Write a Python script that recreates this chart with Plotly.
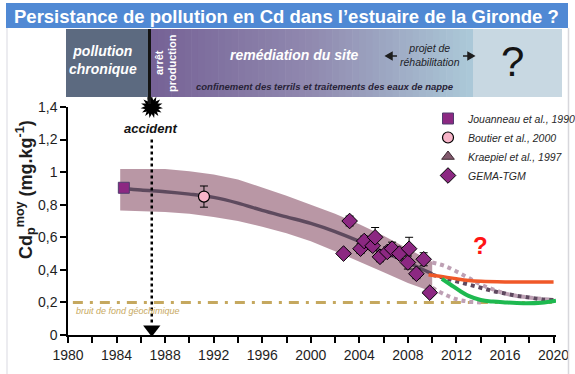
import plotly.graph_objects as go

# ---------------- data ----------------
trend_years = [1984.6, 1986, 1988, 1990, 1992, 1994, 1996, 1998, 2000, 2002, 2004, 2006, 2008, 2010]
trend_cd = [0.90, 0.89, 0.88, 0.865, 0.845, 0.81, 0.765, 0.725, 0.685, 0.635, 0.575, 0.51, 0.445, 0.375]

band_years = [1984.3, 1986, 1988, 1990, 1992, 1994, 1996, 1998, 2000, 2002, 2004, 2006, 2008, 2010]
band_upper = [1.02, 1.02, 1.02, 1.005, 0.985, 0.955, 0.905, 0.855, 0.80, 0.745, 0.68, 0.61, 0.53, 0.45]
band_lower = [0.765, 0.76, 0.755, 0.745, 0.725, 0.70, 0.665, 0.625, 0.575, 0.515, 0.45, 0.385, 0.32, 0.265]

jouanneau_year = [1984.6]
jouanneau_cd = [0.904]

boutier_year = [1991.2]
boutier_cd = [0.85]
boutier_err = [0.065]

kraepiel_year = [None]
kraepiel_cd = [None]

gema_year = [2002.7, 2003.2, 2004.1, 2004.4, 2005.1, 2005.3, 2005.7, 2006.3, 2006.7, 2007.3, 2008.0, 2008.1, 2008.7, 2009.3, 2009.8]
gema_cd = [0.50, 0.70, 0.53, 0.577, 0.548, 0.60, 0.48, 0.51, 0.53, 0.50, 0.445, 0.53, 0.376, 0.465, 0.26]
gema_err = [0.02, 0.03, 0.03, 0.03, 0.03, 0.06, 0.03, 0.03, 0.04, 0.03, 0.04, 0.07, 0.03, 0.04, 0.02]

orange_years = [2009.7, 2011, 2012, 2013, 2014, 2016, 2018, 2020]
orange_cd = [0.37, 0.357, 0.345, 0.335, 0.33, 0.326, 0.325, 0.325]

green_years = [2010.8, 2011.5, 2012.3, 2013, 2014, 2015, 2016, 2017.5, 2019, 2020.2]
green_cd = [0.345, 0.31, 0.27, 0.24, 0.215, 0.205, 0.2, 0.195, 0.198, 0.21]

dot_up_years = [2010, 2011, 2012, 2013, 2014, 2015, 2016, 2017, 2018, 2020]
dot_up_cd = [0.445, 0.425, 0.39, 0.35, 0.31, 0.28, 0.255, 0.24, 0.23, 0.215]

dot_mid_years = [2010, 2011, 2012, 2013, 2014, 2015, 2016, 2017, 2018, 2019, 2020]
dot_mid_cd = [0.37, 0.35, 0.33, 0.31, 0.29, 0.27, 0.255, 0.24, 0.23, 0.22, 0.215]

dot_low_years = [2010, 2011, 2012, 2013, 2014]
dot_low_cd = [0.29, 0.25, 0.22, 0.205, 0.20]

background_years = [1980.4, 2020]
background_cd = [0.2, 0.2]

accident_year = [1986.9, 1986.9]
accident_cd = [1.2, 0.07]

x_ticks = [1980, 1984, 1988, 1992, 1996, 2000, 2004, 2008, 2012, 2016, 2020]
y_ticks = [0, 0.2, 0.4, 0.6, 0.8, 1.0, 1.2, 1.4]
y_ticklabels = ["0", "0,2", "0,4", "0,6", "0,8", "1", "1,2", "1,4"]

# ---------------- figure ----------------
W, H = 575, 374
ML, MR, MT, MB = 68, 19, 107, 39
PW = W - ML - MR
PH = H - MT - MB


def px_x(px):
    return (px - ML) / PW


def px_y(py):
    return (H - MB - py) / PH


FONT = "Liberation Sans, Arial, sans-serif"
fig = go.Figure()

# envelope band
fig.add_trace(go.Scatter(
    x=band_years + band_years[::-1], y=band_upper + band_lower[::-1],
    fill="toself", fillcolor="rgba(181,145,160,0.95)", line=dict(width=0),
    mode="lines", showlegend=False, hoverinfo="skip"))

# background line
fig.add_trace(go.Scatter(x=background_years, y=background_cd, mode="lines",
                         line=dict(color="rgb(197,168,95)", width=3, dash="10px,7px,3px,7px"),
                         showlegend=False))

# projection dotted lines
fig.add_trace(go.Scatter(x=dot_up_years, y=dot_up_cd, mode="lines",
                         line=dict(color="rgb(190,160,180)", width=4, dash="dot", shape="spline"),
                         showlegend=False))
fig.add_trace(go.Scatter(x=dot_low_years, y=dot_low_cd, mode="lines",
                         line=dict(color="rgb(190,160,180)", width=4, dash="dot", shape="spline"),
                         showlegend=False))
fig.add_trace(go.Scatter(x=dot_mid_years, y=dot_mid_cd, mode="lines",
                         line=dict(color="rgb(95,72,95)", width=4, dash="dot", shape="spline"),
                         showlegend=False))

# trend line
fig.add_trace(go.Scatter(x=trend_years, y=trend_cd, mode="lines",
                         line=dict(color="rgb(94,74,94)", width=3.5, shape="spline"),
                         showlegend=False))

# orange & green scenarios
fig.add_trace(go.Scatter(x=orange_years, y=orange_cd, mode="lines",
                         line=dict(color="rgb(240,88,40)", width=3.5, shape="spline"),
                         showlegend=False))
fig.add_trace(go.Scatter(x=green_years, y=green_cd, mode="lines",
                         line=dict(color="rgb(30,185,80)", width=4, shape="spline"),
                         showlegend=False))

# accident dotted arrow
fig.add_trace(go.Scatter(x=accident_year, y=accident_cd, mode="lines",
                         line=dict(color="black", width=2.5, dash="dot"), showlegend=False))
fig.add_trace(go.Scatter(x=accident_year[1:], y=[0.035], mode="markers",
                         marker=dict(symbol="triangle-down", size=15, color="black"),
                         showlegend=False, cliponaxis=False))
for ang in (0, 24, 48):
    fig.add_trace(go.Scatter(x=accident_year[:1], y=[1.4], mode="markers",
                             marker=dict(symbol="star", size=16, color="black", angle=ang),
                             showlegend=False, cliponaxis=False))

# data series (legend)
fig.add_trace(go.Scatter(x=jouanneau_year, y=jouanneau_cd, mode="markers",
                         name="<i>Jouanneau et al., 1990</i>",
                         marker=dict(symbol="square", size=11, color="rgb(140,40,130)",
                                     line=dict(color="rgb(80,60,110)", width=1))))
fig.add_trace(go.Scatter(x=boutier_year, y=boutier_cd, mode="markers",
                         name="<i>Boutier et al., 2000</i>",
                         error_y=dict(type="data", array=boutier_err, color="black", thickness=1, width=4),
                         marker=dict(symbol="circle", size=11, color="rgb(247,180,200)",
                                     line=dict(color="black", width=1.2))))
fig.add_trace(go.Scatter(x=kraepiel_year, y=kraepiel_cd, mode="markers",
                         name="<i>Kraepiel et al., 1997</i>",
                         marker=dict(symbol="triangle-up", size=11, color="rgb(130,90,110)",
                                     line=dict(color="rgb(60,40,50)", width=1))))
fig.add_trace(go.Scatter(x=gema_year, y=gema_cd, mode="markers",
                         name="<i>GEMA-TGM</i>",
                         error_y=dict(type="data", array=gema_err, color="black", thickness=1, width=4),
                         marker=dict(symbol="diamond", size=12, color="rgb(140,40,130)",
                                     line=dict(color="black", width=1))))

shapes = []
# title bar
shapes.append(dict(type="rect", xref="paper", yref="paper", x0=px_x(6), x1=px_x(568),
                   y0=px_y(28), y1=px_y(3), fillcolor="rgb(80,137,212)", line=dict(width=0)))
# frame lines
shapes.append(dict(type="line", xref="paper", yref="paper", x0=px_x(568.5), x1=px_x(568.5),
                   y0=px_y(374), y1=px_y(28), line=dict(color="rgb(215,215,220)", width=1.5)))
shapes.append(dict(type="line", xref="paper", yref="paper", x0=px_x(7), x1=px_x(7),
                   y0=px_y(374), y1=px_y(28), line=dict(color="rgb(230,230,235)", width=1.5)))
# band sections
BT, BB = px_y(29), px_y(97)
shapes.append(dict(type="rect", xref="paper", yref="paper", x0=px_x(66), x1=px_x(149),
                   y0=BB, y1=BT, fillcolor="rgb(92,106,128)", line=dict(width=0)))
N = 48
g0, g1 = 151, 473
c0 = (118, 98, 150)
cm = (145, 138, 176)
c1 = (172, 202, 217)
for i in range(N):
    t = (i + 0.5) / N
    if t < 0.5:
        u = t / 0.5
        c = [c0[k] + (cm[k] - c0[k]) * u for k in range(3)]
    else:
        u = (t - 0.5) / 0.5
        c = [cm[k] + (c1[k] - cm[k]) * u for k in range(3)]
    xa = g0 + (g1 - g0) * i / N
    xb = g0 + (g1 - g0) * (i + 1) / N + 0.6
    shapes.append(dict(type="rect", xref="paper", yref="paper", x0=px_x(xa), x1=px_x(xb),
                       y0=BB, y1=BT, fillcolor="rgb(%d,%d,%d)" % tuple(int(v) for v in c),
                       line=dict(width=0)))
shapes.append(dict(type="rect", xref="paper", yref="paper", x0=px_x(473), x1=px_x(562),
                   y0=BB, y1=BT, fillcolor="rgb(200,216,226)", line=dict(width=0)))
# black production stop line
shapes.append(dict(type="line", xref="paper", yref="paper", x0=px_x(149.5), x1=px_x(149.5),
                   y0=px_y(104), y1=BT, line=dict(color="rgb(20,20,20)", width=3)))


# arrows for "projet de réhabilitation"
def arrow_path(x_head, x_tail, y, hw=3.5, hl=6):
    d = 1 if x_tail > x_head else -1
    xb = x_head + d * hl
    return ("M %f,%f L %f,%f L %f,%f Z M %f,%f L %f,%f" % (
        px_x(x_head), px_y(y), px_x(xb), px_y(y - hw), px_x(xb), px_y(y + hw),
        px_x(xb), px_y(y), px_x(x_tail), px_y(y)))


for xh, xt in ((386, 397), (474, 463)):
    shapes.append(dict(type="path", xref="paper", yref="paper", path=arrow_path(xh, xt, 56),
                       fillcolor="rgb(30,30,30)", line=dict(color="rgb(30,30,30)", width=1.5)))

ann = []


def pann(xp, yp, text, size, color, angle=0):
    ann.append(dict(xref="paper", yref="paper", x=px_x(xp), y=px_y(yp), xanchor="center",
                    yanchor="middle", text=text, showarrow=False, textangle=angle,
                    font=dict(family=FONT, size=size, color=color)))


pann(286, 16, "<b>Persistance de pollution en Cd dans l’estuaire de la Gironde ?</b>", 18.5, "white")
pann(103, 60, "<b><i>pollution<br>chronique</i></b>", 14, "white")
pann(159, 63, "<b>arrêt</b>", 11, "white", -90)
pann(172, 63, "<b>production</b>", 11, "white", -90)
pann(294, 55, "<b><i>remédiation du site</i></b>", 14, "white")
pann(430, 55, "<i>projet de<br>réhabilitation</i>", 10.5, "rgb(30,30,40)")
pann(325, 86, "<b><i>confinement des terrils et traitements des eaux de nappe</i></b>", 9.5, "rgb(40,35,55)")
pann(512, 62, "?", 42, "rgb(20,20,20)")
# y axis title
pann(25, 190, "<b>Cd<sub>p</sub><sup>moy</sup> (mg.kg<sup>-1</sup>)</b>", 18, "rgb(30,30,30)", -90)
# in-plot text
ann.append(dict(x=1986.8, y=1.265, text="<b><i>accident</i></b>", showarrow=False,
                font=dict(family=FONT, size=13, color="rgb(20,20,20)")))
ann.append(dict(x=1980.5, y=0.15, xanchor="left", text="<i>bruit de fond géochimique</i>", showarrow=False,
                font=dict(family=FONT, size=9, color="rgb(200,170,100)")))
ann.append(dict(x=2014, y=0.55, text="<b>?</b>", showarrow=False,
                font=dict(family=FONT, size=24, color="rgb(255,20,20)")))

fig.update_layout(
    width=W, height=H,
    margin=dict(l=ML, r=MR, t=MT, b=MB, autoexpand=False),
    paper_bgcolor="white", plot_bgcolor="white",
    shapes=shapes, annotations=ann,
    font=dict(family=FONT, size=14, color="rgb(30,30,30)"),
    legend=dict(x=px_x(428), y=px_y(104), xanchor="left", yanchor="top",
                bgcolor="rgba(0,0,0,0)", font=dict(family=FONT, size=10.5, color="rgb(40,40,40)"),
                tracegroupgap=0, itemwidth=30),
    xaxis=dict(range=[1980, 2020.2], tickvals=x_ticks, showgrid=False, zeroline=False,
               showline=True, linecolor="black", linewidth=1.5, ticks="outside", ticklen=6,
               tickwidth=1.5, tickcolor="black",
               minor=dict(dtick=2, ticks="outside", ticklen=6, tickwidth=1.5, tickcolor="black", showgrid=False),
               tickfont=dict(size=14, color="rgb(30,30,30)")),
    yaxis=dict(range=[0, 1.4], tickvals=y_ticks, ticktext=y_ticklabels, showgrid=False, zeroline=False,
               showline=True, linecolor="black", linewidth=1.5, ticks="outside", ticklen=6,
               tickwidth=1.5, tickcolor="black", tickfont=dict(size=14, color="rgb(30,30,30)")),
)

fig.write_html("out.html", config={"displayModeBar": False},
               post_script="document.body.style.margin='0';document.body.style.overflow='hidden';")
